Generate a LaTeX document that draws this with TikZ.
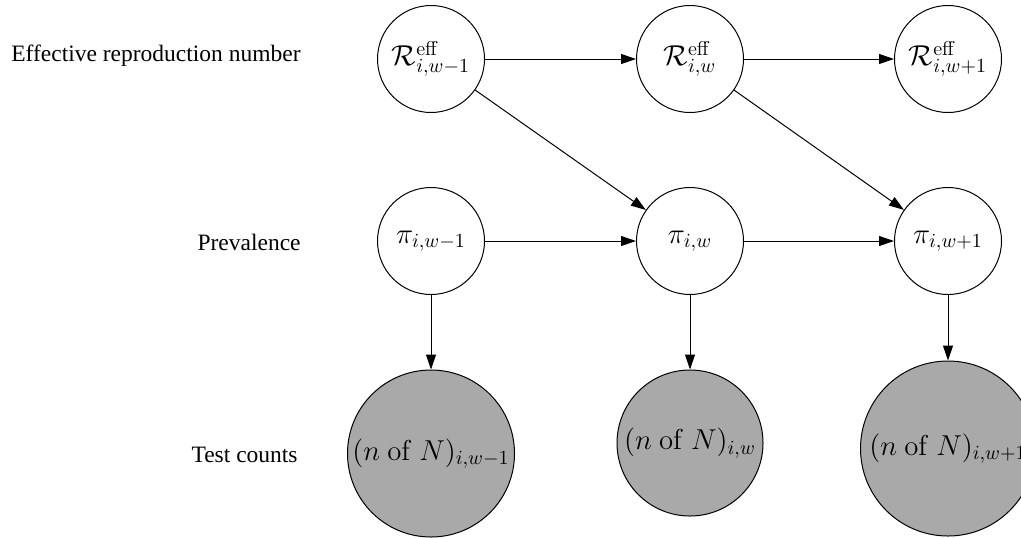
\documentclass[tikz,border=0pt]{standalone}
\usepackage[no-math]{fontspec}
\setmainfont{Liberation Serif}
\usepackage{tikz}
\usetikzlibrary{arrows.meta, positioning}
\definecolor{obsgray}{RGB}{169,169,169}

\begin{document}
\begin{tikzpicture}[
    x=0.5pt, y=-0.5pt,
    font=\fontsize{14.4}{17}\selectfont,
    latent/.style={draw, circle, line width=0.5pt, inner sep=0pt,
                   minimum size=53.5pt, fill=white},
    observed/.style={latent, fill=obsgray},
    rowlabel/.style={anchor=base east, inner sep=0pt,
                     font=\fontsize{11.75}{14}\selectfont},
    edge/.style={line width=0.5pt, -{Triangle[length=7.5pt, width=5pt]}}
  ]
    \clip (0,0) rectangle (1021,537);
    \node[rowlabel] (lblR) at (301,61)  {Effective reproduction number};
    \node[rowlabel] (lblP) at (301,250) {Prevalence};
    \node[rowlabel] (lblN) at (298,462) {Test counts};
    \foreach \x/\n/\s in {431/a/{w-1}, 690/b/w, 948/c/{w+1}} {
      \node[latent] (R\n) at (\x,59)  {$\mathcal{R}^{\mathrm{eff}}_{i,\s}$};
      \node[latent] (P\n) at (\x,241) {$\pi_{i,\s}$};
    }
    \node[observed, minimum size=83.5pt] (Na) at (431,453.5) {$(n\ \mathrm{of}\ N)_{i,w-1}$};
    \node[observed, minimum size=73pt]   (Nb) at (690,443)   {$(n\ \mathrm{of}\ N)_{i,w}$};
    \node[observed, minimum size=87.5pt] (Nc) at (948,448.5) {$(n\ \mathrm{of}\ N)_{i,w+1}$};
    \draw[edge] (Ra) -- (Rb);
    \draw[edge] (Rb) -- (Rc);
    \draw[edge] (Pa) -- (Pb);
    \draw[edge] (Pb) -- (Pc);
    \draw[edge] (Ra) -- (Pb);
    \draw[edge] (Rb) -- (Pc);
    \draw[edge] (Pa) -- (Na);
    \draw[edge] (Pb) -- (Nb);
    \draw[edge] (Pc) -- (Nc);
  \end{tikzpicture}
\end{document}
